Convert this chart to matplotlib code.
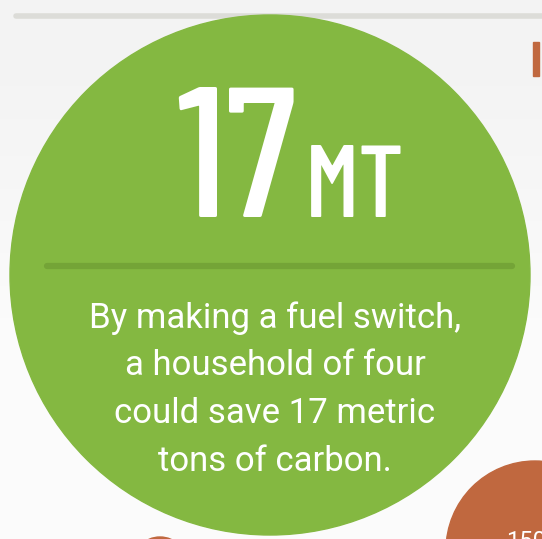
import numpy as np
import matplotlib.pyplot as plt
from matplotlib.patches import Circle
from matplotlib import font_manager

# text content
big_number = "17"
big_unit = "MT"
body_lines = ["By making a fuel switch,",
              "a household of four",
              "could save 17 metric",
              "tons of carbon."]
corner_label = "150"

green = "#84b841"
green_dark = "#74a437"
orange = "#c0683f"

# pick a narrow font for the headline if one is installed
installed = {f.name for f in font_manager.fontManager.ttflist}
head_font = "DejaVu Sans"
for name in ["Barlow Condensed", "Roboto Condensed", "Liberation Sans Narrow",
             "DejaVu Sans Condensed", "Roboto"]:
    if name in installed:
        head_font = name
        break

W, H = 542, 539
fig = plt.figure(figsize=(W / 100, H / 100), dpi=100)
ax = fig.add_axes([0, 0, 1, 1])
ax.set_xlim(0, W)
ax.set_ylim(H, 0)
ax.axis("off")

# soft grey background, a bit lighter towards the bottom
grad = np.linspace(0, 1, 100).reshape(-1, 1)
top = np.array([0.953, 0.953, 0.953])
bot = np.array([0.985, 0.985, 0.985])
bg = top + (bot - top) * np.clip((grad - 0.1) / 0.5, 0, 1)[..., None]
ax.imshow(np.repeat(bg, 2, axis=1), extent=[0, W, H, 0], aspect="auto", zorder=0)

# rule at the top
ax.plot([16, W + 10], [16, 16], color="#dcdcd8", lw=4, solid_capstyle="round", zorder=1)

# orange bits peeking in
ax.add_patch(Circle((535, 550), 89, color=orange, zorder=2))
ax.add_patch(Circle((160, 565), 28, color=orange, zorder=2))
ax.add_patch(plt.Rectangle((533, 42), 6, 34, color=orange, zorder=2))

# main green circle
ax.add_patch(Circle((270, 275), 260, color=green, zorder=3))
ax.plot([47, 512], [266, 266], color=green_dark, lw=4.5, solid_capstyle="round", zorder=4)

ax.text(297, 217, big_number, color="white", fontsize=134, fontweight="medium",
        family=head_font, ha="right", va="baseline", zorder=5)
ax.text(305, 217, big_unit, color="white", fontsize=74, fontweight="medium",
        family=head_font, ha="left", va="baseline", zorder=5)

baselines = [328, 375, 423, 471]
for line, yb in zip(body_lines, baselines):
    ax.text(275, yb, line, color="white", fontsize=25, family="Roboto",
            fontweight="normal", ha="center", va="baseline", zorder=5)

ax.text(506, 548, corner_label, color="white", fontsize=17, family="Roboto",
        ha="left", va="baseline", zorder=5)

fig.savefig("out.png", dpi=100)
